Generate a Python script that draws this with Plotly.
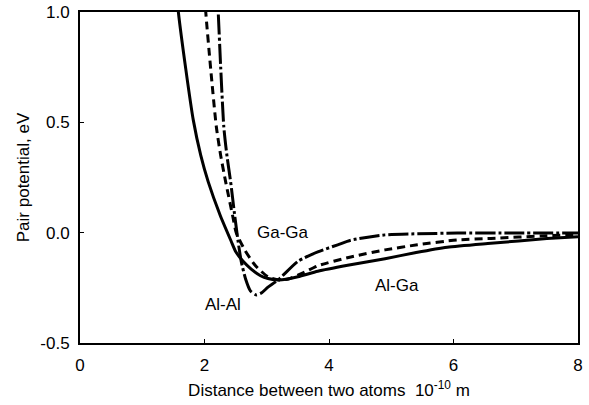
import plotly.graph_objects as go

# Al-Ga (solid)
alga_x = [1.50, 1.58, 1.70, 1.82, 1.94, 2.06, 2.25, 2.43, 2.50, 2.62, 2.75, 2.90, 3.02, 3.20, 3.50, 3.82, 4.30, 4.90, 5.40, 5.90, 6.60, 7.50, 8.00]
alga_y = [1.25, 1.00, 0.74, 0.51, 0.35, 0.23, 0.08, -0.04, -0.085, -0.130, -0.165, -0.195, -0.208, -0.215, -0.200, -0.175, -0.148, -0.118, -0.090, -0.066, -0.048, -0.027, -0.018]

# Ga-Ga (dashed)
gaga_x = [1.96, 2.02, 2.10, 2.19, 2.26, 2.34, 2.45, 2.51, 2.65, 2.82, 3.02, 3.20, 3.35, 3.60, 3.82, 4.35, 4.90, 5.42, 6.06, 6.60, 7.50, 8.00]
gaga_y = [1.25, 1.00, 0.74, 0.48, 0.35, 0.23, 0.08, 0.00, -0.080, -0.150, -0.200, -0.214, -0.210, -0.180, -0.150, -0.110, -0.078, -0.055, -0.033, -0.026, -0.014, -0.009]

# Al-Al (dash-dot)
alal_x = [2.17, 2.22, 2.26, 2.31, 2.36, 2.42, 2.48, 2.54, 2.59, 2.66, 2.74, 2.83, 2.92, 3.02, 3.18, 3.50, 3.82, 4.14, 4.35, 4.90, 5.42, 6.06, 7.00, 8.00]
alal_y = [1.25, 1.00, 0.75, 0.48, 0.35, 0.23, 0.09, -0.04, -0.13, -0.21, -0.265, -0.282, -0.272, -0.247, -0.215, -0.130, -0.087, -0.055, -0.034, -0.010, -0.005, -0.002, -0.002, -0.002]

x_ticks = [0, 2, 4, 6, 8]
x_tick_text = ["0", "2", "4", "6", "8"]
y_ticks = [-0.5, 0.0, 0.5, 1.0]
y_tick_text = ["-0.5", "0.0", "0.5", "1.0"]

labels_text = ["Ga-Ga", "Al-Al", "Al-Ga"]
labels_x = [3.26, 2.29, 5.10]
labels_y = [0.00, -0.325, -0.24]

FONT = "Liberation Sans, Arial, sans-serif"

fig = go.Figure()
fig.add_trace(go.Scatter(x=alga_x, y=alga_y, mode="lines", name="Al-Ga",
                         line=dict(color="black", width=3, shape="spline", smoothing=0.6)))
fig.add_trace(go.Scatter(x=gaga_x, y=gaga_y, mode="lines", name="Ga-Ga",
                         line=dict(color="black", width=3, dash="8px,5px", shape="spline", smoothing=0.6)))
fig.add_trace(go.Scatter(x=alal_x, y=alal_y, mode="lines", name="Al-Al",
                         line=dict(color="black", width=3, dash="20px,3px,3px,3px", shape="spline", smoothing=0.6)))

for t, lx, ly in zip(labels_text, labels_x, labels_y):
    fig.add_annotation(x=lx, y=ly, text=t, showarrow=False,
                       font=dict(family=FONT, size=17, color="black"))

fig.update_layout(
    width=589, height=405,
    margin=dict(l=80, r=11, t=12, b=62),
    paper_bgcolor="white", plot_bgcolor="white",
    showlegend=False,
    font=dict(family=FONT, size=17, color="black"),
)
fig.update_xaxes(range=[0, 8], tickvals=x_ticks, ticktext=x_tick_text, automargin=False,
                 showgrid=False, zeroline=False, showline=True, linecolor="black", linewidth=2,
                 mirror=True, ticks="inside", ticklen=4, tickcolor="black",
                 ticklabelstandoff=6,
                 tickfont=dict(family=FONT, size=17),
                 title=dict(text="Distance between two atoms  10<sup>-10</sup> m", standoff=10,
                            font=dict(family=FONT, size=17)))
fig.update_yaxes(range=[-0.5, 1.0], tickvals=y_ticks, ticktext=y_tick_text, automargin=False,
                 showgrid=False, zeroline=False, showline=True, linecolor="black", linewidth=2,
                 mirror=True, ticks="inside", ticklen=4, tickcolor="black",
                 ticklabelstandoff=5,
                 tickfont=dict(family=FONT, size=17),
                 title=dict(text="Pair potential, eV", standoff=6,
                            font=dict(family=FONT, size=17)))

fig.write_html("out.html", config={"displayModeBar": False},
               post_script="document.body.style.margin='0px';document.body.style.overflow='hidden';")
